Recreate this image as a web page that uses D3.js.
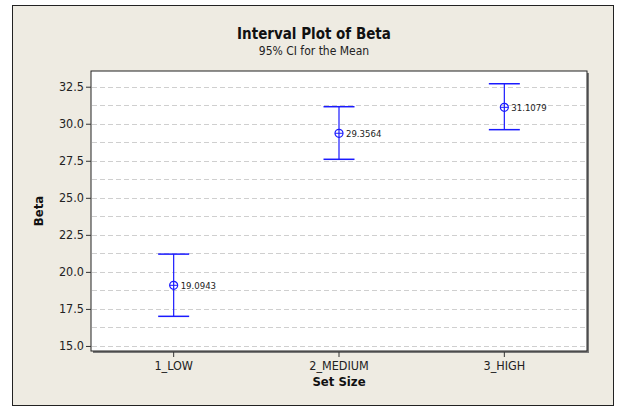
<!DOCTYPE html>
<html>
<head>
<meta charset="utf-8">
<script src="https://cdn.jsdelivr.net/npm/d3@7"></script>
<style>
  body { margin: 0; background: #fff; }
  text { font-family: "DejaVu Sans Condensed", "DejaVu Sans", sans-serif; }
</style>
</head>
<body>
<svg id="chart" width="617" height="407"></svg>
<script>
// data
var categories = ["1_LOW", "2_MEDIUM", "3_HIGH"];
var means = [19.0943, 29.3564, 31.1079];
var lower = [17.0, 27.6, 29.6];
var upper = [21.2, 31.15, 32.7];
var yTicks = [15.0, 17.5, 20.0, 22.5, 25.0, 27.5, 30.0, 32.5];
var gridLines = [15.0, 16.25, 17.5, 18.75, 20.0, 21.25, 22.5, 23.75, 25.0, 26.25, 27.5, 28.75, 30.0, 31.25, 32.5];

var data = categories.map(function(c, i) {
  return { cat: c, mean: means[i], lo: lower[i], hi: upper[i] };
});

var svg = d3.select("#chart");
var blue = "#1a1aff";

// outer frame
svg.append("rect")
  .attr("x", 12.5).attr("y", 5.5)
  .attr("width", 601).attr("height", 400)
  .attr("fill", "#eeebe2")
  .attr("stroke", "#222").attr("stroke-width", 1);

var margin = {top: 71, left: 91},
    width = 496,
    height = 280;

var x = d3.scaleBand()
  .domain(categories)
  .range([0, width])
  .padding(0);

var y = d3.scaleLinear()
  .domain([14.66, 33.56])
  .range([height, 0]);

var g = svg.append("g").attr("transform", "translate(" + margin.left + "," + margin.top + ")");

// shadow + plot box
g.append("rect")
  .attr("x", 2).attr("y", 2)
  .attr("width", width).attr("height", height)
  .attr("fill", "#777");
g.append("rect")
  .attr("width", width).attr("height", height)
  .attr("fill", "#fff")
  .attr("stroke", "#222").attr("stroke-width", 1);

// dashed grid
g.selectAll(".grid")
  .data(gridLines)
  .enter().append("line")
    .attr("class", "grid")
    .attr("x1", 1).attr("x2", width - 1)
    .attr("y1", function(d) { return Math.round(y(d)) + 0.5; })
    .attr("y2", function(d) { return Math.round(y(d)) + 0.5; })
    .attr("stroke", "#cfcfcf")
    .attr("stroke-dasharray", "5,3");

// y axis
var yAxis = g.append("g")
  .attr("class", "axis axis--y")
  .call(d3.axisLeft(y).tickValues(yTicks).tickFormat(d3.format(".1f")).tickSize(5).tickSizeOuter(0));
yAxis.select(".domain").remove();
yAxis.selectAll("line").attr("stroke", "#333");
yAxis.selectAll("text").attr("fill", "#222").style("font-size", "12.5px").attr("x", -7);

// x axis
var xAxis = g.append("g")
  .attr("class", "axis axis--x")
  .attr("transform", "translate(0," + (height + 1) + ")")
  .call(d3.axisBottom(x).tickSize(5).tickSizeOuter(0));
xAxis.select(".domain").remove();
xAxis.selectAll("line").attr("stroke", "#333");
xAxis.selectAll("text").attr("fill", "#222").style("font-size", "12.5px").attr("y", 9);

// interval bars
var cap = 15.5;
var pts = g.selectAll(".interval")
  .data(data)
  .enter().append("g")
    .attr("class", "interval")
    .attr("transform", function(d) { return "translate(" + (x(d.cat) + x.bandwidth() / 2) + ",0)"; });

pts.append("line")
  .attr("x1", 0).attr("x2", 0)
  .attr("y1", function(d) { return y(d.hi); })
  .attr("y2", function(d) { return y(d.lo); })
  .attr("stroke", blue).attr("stroke-width", 1.2);
pts.append("line")
  .attr("x1", -cap).attr("x2", cap)
  .attr("y1", function(d) { return y(d.hi); })
  .attr("y2", function(d) { return y(d.hi); })
  .attr("stroke", blue).attr("stroke-width", 1.5);
pts.append("line")
  .attr("x1", -cap).attr("x2", cap)
  .attr("y1", function(d) { return y(d.lo); })
  .attr("y2", function(d) { return y(d.lo); })
  .attr("stroke", blue).attr("stroke-width", 1.5);
pts.append("circle")
  .attr("cy", function(d) { return y(d.mean); })
  .attr("r", 4)
  .attr("fill", "none")
  .attr("stroke", blue).attr("stroke-width", 1.2);
pts.append("line")
  .attr("x1", -4).attr("x2", 4)
  .attr("y1", function(d) { return y(d.mean); })
  .attr("y2", function(d) { return y(d.mean); })
  .attr("stroke", blue).attr("stroke-width", 1);
pts.append("text")
  .attr("x", 7)
  .attr("y", function(d) { return y(d.mean); })
  .attr("dy", "0.35em")
  .attr("fill", "#222")
  .style("font-size", "9.5px")
  .text(function(d) { return d3.format(".4f")(d.mean); });

// titles
svg.append("text")
  .attr("x", 314).attr("y", 39)
  .attr("text-anchor", "middle")
  .attr("fill", "#111")
  .style("font-size", "15px").style("font-weight", "bold")
  .text("Interval Plot of Beta");
svg.append("text")
  .attr("x", 314).attr("y", 55)
  .attr("text-anchor", "middle")
  .attr("fill", "#222")
  .style("font-size", "12px")
  .text("95% CI for the Mean");
svg.append("text")
  .attr("x", 339).attr("y", 386)
  .attr("text-anchor", "middle")
  .attr("fill", "#111")
  .style("font-size", "13px").style("font-weight", "bold")
  .text("Set Size");
svg.append("text")
  .attr("transform", "translate(43,211) rotate(-90)")
  .attr("text-anchor", "middle")
  .attr("fill", "#111")
  .style("font-size", "13px").style("font-weight", "bold")
  .text("Beta");
</script>
</body>
</html>
